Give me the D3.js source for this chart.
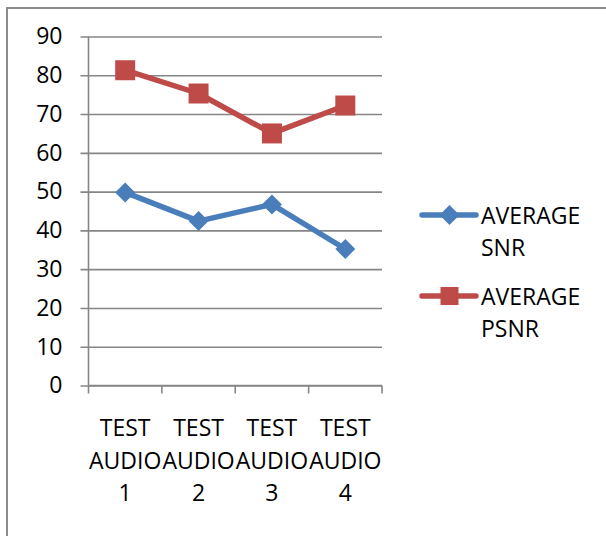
<!DOCTYPE html>
<html>
<head>
<meta charset="utf-8">
<script src="https://cdn.jsdelivr.net/npm/d3@7"></script>
<style>
  html, body { margin: 0; padding: 0; background: #fff; }
  svg { display: block; }
  text { font-family: "Open Sans", "Noto Sans", sans-serif; fill: #000; }
</style>
</head>
<body>
<svg id="chart" width="606" height="536"></svg>
<script>
// Test clips on the x axis, two measured averages per clip
const categories = ["TEST AUDIO 1", "TEST AUDIO 2", "TEST AUDIO 3", "TEST AUDIO 4"];
const seriesNames = ["AVERAGE SNR", "AVERAGE PSNR"];
const snrValues = [49.8, 42.4, 46.7, 35.2];
const psnrValues = [81.3, 75.3, 65.0, 72.2];
const yTicks = [0, 10, 20, 30, 40, 50, 60, 70, 80, 90];
const seriesColors = ["#4A7EBB", "#BE4B48"];

const svg = d3.select("#chart");
const fontSize = 23;
const gridColor = "#868686";

// Outer chart frame (runs off the right and bottom edges)
svg.append("rect")
  .attr("x", 7).attr("y", 8)
  .attr("width", 640).attr("height", 600)
  .attr("fill", "none")
  .attr("stroke", "#8c8c8c")
  .attr("stroke-width", 2);

const plot = { left: 88.5, right: 382, top: 36.5, bottom: 385.5 };

const x = d3.scaleBand()
  .domain(categories)
  .range([plot.left, plot.right])
  .paddingInner(0).paddingOuter(0);

const y = d3.scaleLinear()
  .domain([0, 90])
  .range([plot.bottom, plot.top]);

// Horizontal gridlines with short ticks on the left
const yAxis = d3.axisLeft(y)
  .tickValues(yTicks)
  .tickSize(-(plot.right - plot.left))
  .tickPadding(26)
  .tickFormat(d3.format("d"));

const yG = svg.append("g")
  .attr("transform", `translate(${plot.left},0)`)
  .call(yAxis);
yG.select(".domain").remove();
yG.selectAll(".tick line")
  .attr("x1", -8)
  .attr("stroke", gridColor)
  .attr("stroke-width", 1.6);
yG.selectAll(".tick text")
  .attr("x", -26)
  .style("font-size", fontSize + "px")
  .style("font-family", "'Open Sans', sans-serif")
  .attr("fill", "#000");

// Vertical axis line
svg.append("line")
  .attr("x1", plot.left).attr("x2", plot.left)
  .attr("y1", plot.top).attr("y2", plot.bottom)
  .attr("stroke", gridColor).attr("stroke-width", 1.6);

// Category axis with tick marks on band boundaries
const xAxisG = svg.append("g");
xAxisG.append("line")
  .attr("x1", plot.left).attr("x2", plot.right)
  .attr("y1", plot.bottom).attr("y2", plot.bottom)
  .attr("stroke", gridColor).attr("stroke-width", 1.6);
const boundaries = categories.map(c => x(c)).concat([x(categories[categories.length - 1]) + x.bandwidth()]);
xAxisG.selectAll("line.tk")
  .data(boundaries)
  .join("line")
  .attr("class", "tk")
  .attr("x1", d => d).attr("x2", d => d)
  .attr("y1", plot.bottom).attr("y2", plot.bottom + 8)
  .attr("stroke", gridColor).attr("stroke-width", 1.6);

// Category labels, wrapped into three lines
const lineGap = 32.5;
categories.forEach(c => {
  const parts = c.split(" ");
  const t = svg.append("text")
    .attr("text-anchor", "middle")
    .style("font-size", fontSize + "px");
  parts.forEach((p, i) => {
    t.append("tspan")
      .attr("x", x(c) + x.bandwidth() / 2)
      .attr("y", 436 + i * lineGap)
      .text(p);
  });
});

const cx = c => x(c) + x.bandwidth() / 2;
const line = d3.line().x(d => cx(d.c)).y(d => y(d.v));

const snrData = categories.map((c, i) => ({ c, v: snrValues[i] }));
const psnrData = categories.map((c, i) => ({ c, v: psnrValues[i] }));

function drawSeries(data, color, marker) {
  svg.append("path")
    .datum(data)
    .attr("d", line)
    .attr("fill", "none")
    .attr("stroke", color)
    .attr("stroke-width", 5.5)
    .attr("stroke-linejoin", "round")
    .attr("stroke-linecap", "round");
  svg.selectAll(null)
    .data(data)
    .join("path")
    .attr("transform", d => `translate(${cx(d.c)},${y(d.v)})`)
    .attr("d", marker)
    .attr("fill", color);
}

const diamond = "M0,-10L10,0L0,10L-10,0Z";
const square = "M-10,-10H10V10H-10Z";
drawSeries(snrData, seriesColors[0], diamond);
drawSeries(psnrData, seriesColors[1], square);

// Legend
const legendItems = [
  { name: seriesNames[0], color: seriesColors[0], marker: diamond, y: 215 },
  { name: seriesNames[1], color: seriesColors[1], marker: "M-9,-9H9V9H-9Z", y: 296 }
];
legendItems.forEach(item => {
  const g = svg.append("g");
  g.append("line")
    .attr("x1", 422).attr("x2", 476)
    .attr("y1", item.y).attr("y2", item.y)
    .attr("stroke", item.color)
    .attr("stroke-width", 5.5)
    .attr("stroke-linecap", "round");
  g.append("path")
    .attr("transform", `translate(449.5,${item.y})`)
    .attr("d", item.marker)
    .attr("fill", item.color);
  const words = item.name.split(" ");
  const t = g.append("text").style("font-size", fontSize + "px");
  words.forEach((w, i) => {
    t.append("tspan")
      .attr("x", 481)
      .attr("y", item.y + 9 + i * 32)
      .text(w);
  });
});
</script>
</body>
</html>
